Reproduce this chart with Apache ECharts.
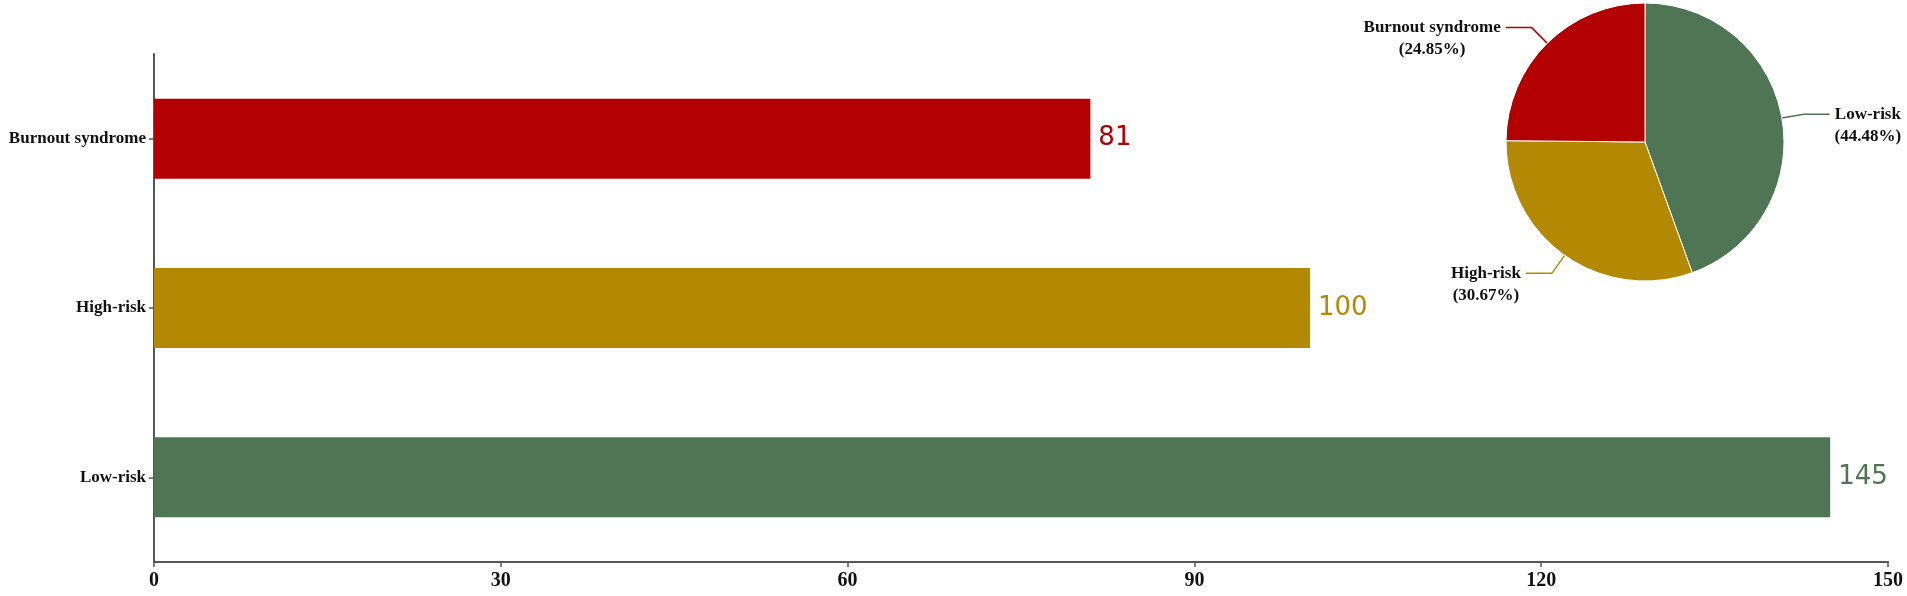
<!DOCTYPE html>
<html>
<head>
<meta charset="utf-8">
<script src="https://cdn.jsdelivr.net/npm/echarts@6/dist/echarts.min.js"></script>
<style>
  html, body { margin: 0; padding: 0; background: #fff; }
  #chart { width: 1907px; height: 596px; }
</style>
</head>
<body>
<div id="chart"></div>
<script>
// Bar categories top-to-bottom, with counts and their colours
const categories = ['Burnout syndrome', 'High-risk', 'Low-risk'];
const counts = [81, 100, 145];
const colors = ['#B30000', '#B38904', '#4F7555'];
// x-axis ticks
const xMin = 0, xMax = 150, xStep = 30;
// pie runs clockwise from 12 o'clock: Low-risk, High-risk, Burnout syndrome
const pieOrder = [2, 1, 0];

const SERIF = '"Liberation Serif", "Times New Roman", serif';
const AXIS = '#555';
const PIE_LH = 22;

const chart = echarts.init(document.getElementById('chart'));

chart.setOption({
  animation: false,
  backgroundColor: '#fff',
  grid: { left: 154, right: 19, top: 54, bottom: 34, outerBoundsMode: 'none' },
  xAxis: {
    type: 'value',
    min: xMin,
    max: xMax,
    interval: xStep,
    splitLine: { show: false },
    axisLine: { show: true, lineStyle: { color: AXIS, width: 2 } },
    axisTick: { show: true, length: 5, lineStyle: { color: AXIS, width: 1.5 } },
    axisLabel: { margin: 9, color: '#111', fontFamily: SERIF, fontWeight: 'bold', fontSize: 20 },
  },
  yAxis: {
    type: 'category',
    data: categories,
    inverse: true,
    axisLine: { show: true, lineStyle: { color: AXIS, width: 2 } },
    axisTick: { show: true, alignWithLabel: true, length: 5, lineStyle: { color: AXIS, width: 1.5 } },
    axisLabel: { margin: 8, color: '#111', fontFamily: SERIF, fontWeight: 'bold', fontSize: 17 },
  },
  series: [
    {
      type: 'bar',
      barWidth: 80,
      data: counts.map((v, i) => ({
        value: v,
        itemStyle: { color: colors[i] },
        label: { color: colors[i] },
      })),
      label: {
        show: true,
        position: 'right',
        distance: 8,
        fontFamily: '"DejaVu Sans", sans-serif',
        fontSize: 26,
      },
    },
    {
      type: 'pie',
      center: [1645, 142],
      radius: 139,
      startAngle: 90,
      clockwise: true,
      avoidLabelOverlap: false,
      itemStyle: { borderColor: '#fff', borderWidth: 1 },
      data: pieOrder.map(i => ({
        name: categories[i],
        value: counts[i],
        itemStyle: { color: colors[i] },
        labelLine: { lineStyle: { color: colors[i] } },
      })),
      label: {
        show: true,
        formatter: '{b}\n({d}%)',
        color: '#111',
        fontFamily: SERIF,
        fontWeight: 'bold',
        fontSize: 17,
        lineHeight: PIE_LH,
      },
      labelLine: { show: true, length: 22, length2: 26, lineStyle: { width: 1.5 } },
      // centre the two lines on each other and hang them so the leader
      // line meets the name line; keep the original leader line
      labelLayout: p => {
        const end = p.labelLinePoints[p.labelLinePoints.length - 1];
        return {
          x: p.labelRect.x + p.labelRect.width / 2,
          y: end[1] - PIE_LH / 2,
          align: 'center',
          verticalAlign: 'top',
          labelLinePoints: p.labelLinePoints,
        };
      },
    },
  ],
});
</script>
</body>
</html>
